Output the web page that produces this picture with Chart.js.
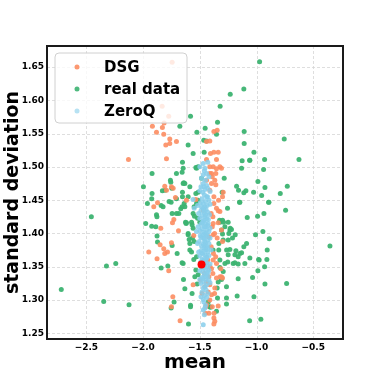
<!DOCTYPE html>
<html>
<head>
<meta charset="utf-8">
<script src="https://cdn.jsdelivr.net/npm/chart.js@4.4.1/dist/chart.umd.min.js"></script>
<style>
  html, body { margin: 0; padding: 0; background: #fff; }
  #wrap { width: 382px; height: 382px; }
</style>
</head>
<body>
<div id="wrap"><canvas id="myChart"></canvas></div>
<script>
const xTicks = [-2.5, -2.0, -1.5, -1.0, -0.5];
const yTicks = [1.25, 1.30, 1.35, 1.40, 1.45, 1.50, 1.55, 1.60, 1.65];
const seriesNames = ["DSG", "real data", "ZeroQ"];

// [mean, standard deviation]
const realPoints = [
  [-2.456,1.425],[-1.921,1.490],[-1.997,1.470],[-1.962,1.445],[-1.924,1.452],[-1.921,1.460],[-1.977,1.415],[-1.924,1.411],
  [-1.888,1.410],[-1.882,1.428],[-1.878,1.425],[-1.841,1.442],[-1.824,1.440],[-1.830,1.464],[-1.806,1.465],[-1.753,1.447],
  [-1.747,1.468],[-1.759,1.480],[-1.744,1.430],[-1.706,1.452],[-1.706,1.430],[-1.653,1.455],[-1.653,1.462],[-1.632,1.475],
  [-1.638,1.445],[-1.656,1.440],[-1.685,1.430],[-1.626,1.417],[-1.656,1.492],[-1.653,1.507],[-1.603,1.533],[-1.676,1.561],
  [-1.582,1.576],[-1.559,1.520],[-1.535,1.499],[-1.515,1.500],[-1.559,1.430],[-1.550,1.440],[-1.529,1.445],[-1.573,1.417],
  [-1.568,1.413],[-1.559,1.408],[-1.535,1.460],[-1.515,1.462],[-1.603,1.400],
  [-2.721,1.316],[-2.347,1.298],[-2.323,1.351],[-2.241,1.355],[-2.124,1.293],[-1.877,1.396],[-1.873,1.387],[-1.841,1.348],
  [-1.782,1.351],[-1.744,1.382],[-1.700,1.370],[-1.656,1.356],[-1.644,1.331],[-1.632,1.317],[-1.727,1.297],[-1.753,1.288],
  [-1.582,1.292],[-1.600,1.264],[-1.621,1.415],[-1.603,1.398],[-1.588,1.385],[-1.573,1.372],[-1.553,1.361],[-1.565,1.393],
  [-1.550,1.388],[-1.568,1.310],[-1.535,1.345],[-1.515,1.338],[-1.524,1.324],
  [-0.973,1.658],[-1.112,1.617],[-1.109,1.553],[-1.109,1.535],[-0.756,1.542],[-1.023,1.522],[-1.127,1.509],[-1.059,1.510],
  [-0.929,1.511],[-0.626,1.511],[-1.132,1.498],[-0.938,1.496],[-0.988,1.478],[-0.729,1.471],[-0.926,1.469],[-1.112,1.461],
  [-1.026,1.462],[-0.955,1.457],[-0.791,1.460],
  [-1.232,1.609],[-1.321,1.591],[-1.344,1.567],[-1.453,1.558],[-1.526,1.552],[-1.353,1.549],[-1.465,1.540],[-1.441,1.539],
  [-1.462,1.522],[-1.061,1.510],[-1.529,1.498],[-1.647,1.475],[-1.588,1.470],[-1.485,1.483],[-1.285,1.483],[-1.176,1.471],
  [-1.159,1.465],[-1.303,1.462],[-1.150,1.447],[-0.894,1.447],[-1.256,1.438],[-0.744,1.435],[-1.082,1.424],[-0.991,1.426],
  [-0.935,1.430],[-1.326,1.420],[-1.291,1.417],[-1.221,1.406],[-1.244,1.400],[-1.188,1.398],[-1.009,1.398],[-0.944,1.403],
  [-0.888,1.392],[-1.618,1.416],[-1.547,1.426],[-1.668,1.437],[-1.632,1.440],
  [-0.353,1.381],[-1.088,1.385],[-1.112,1.380],[-1.147,1.370],[-1.162,1.365],[-1.191,1.368],[-1.235,1.376],[-1.250,1.390],
  [-1.212,1.393],[-1.232,1.408],[-1.309,1.405],[-1.300,1.399],[-0.906,1.375],[-0.977,1.360],[-0.929,1.350],[-0.988,1.344],
  [-1.035,1.334],[-1.103,1.355],[-1.162,1.354],[-1.206,1.355],[-1.279,1.355],[-1.323,1.349],[-1.294,1.343],[-1.162,1.332],
  [-0.926,1.324],[-0.735,1.325],[-1.265,1.320],[-1.309,1.331],[-1.023,1.305],[-1.171,1.306],[-1.265,1.303],[-1.265,1.294],
  [-1.353,1.283],[-1.412,1.290],[-0.962,1.271],[-1.061,1.269],[-1.529,1.365],[-1.588,1.375],[-1.647,1.355],[-1.582,1.290],
  [-1.544,1.335],[-0.891,1.447],[-1.147,1.447],[-1.132,1.371],[-1.059,1.363],[-0.982,1.361],[-0.909,1.361],
  [-1.706,1.490],[-1.647,1.498],[-1.756,1.477],[-1.641,1.476],[-1.603,1.455],[-1.515,1.450],[-1.771,1.448],[-1.520,1.423],
  [-1.500,1.417],[-1.323,1.417],[-1.300,1.420],[-1.250,1.417],[-1.279,1.410],[-1.235,1.405],[-1.094,1.464],[-1.594,1.391],
  [-1.294,1.390],[-1.332,1.385],[-1.426,1.297],[-1.406,1.289],[-1.344,1.303],[-1.338,1.327],[-1.347,1.318],[-1.323,1.360],
  [-1.254,1.357],[-1.191,1.356],[-1.182,1.374],[-1.383,1.375],[-1.333,1.375],[-1.264,1.375],[-1.250,1.368]
];

const dsgPoints = [
  [-1.744,1.657],[-1.832,1.591],[-1.774,1.576],[-1.815,1.566],[-1.918,1.561],[-1.882,1.552],[-1.830,1.559],[-1.818,1.549],
  [-1.765,1.542],[-1.706,1.538],[-1.765,1.535],[-1.800,1.533],[-1.794,1.512],[-2.129,1.511],[-1.809,1.471],[-1.750,1.470],
  [-1.794,1.465],[-1.873,1.446],[-1.906,1.440],[-1.715,1.454],[-1.729,1.421],[-1.741,1.416],[-1.688,1.404],[-1.844,1.408],
  [-1.618,1.450],[-1.553,1.397],[-1.950,1.372],[-1.850,1.383],[-1.818,1.377],[-1.785,1.372],[-1.750,1.386],[-1.877,1.362],
  [-1.774,1.344],[-1.738,1.305],[-1.750,1.290],[-1.674,1.269],[-1.735,1.468],[-1.809,1.370],[-1.559,1.323],[-1.494,1.330],
  [-1.441,1.538],[-1.412,1.539],[-1.376,1.553],[-1.347,1.555],[-1.406,1.520],[-1.376,1.522],[-1.338,1.522],
  [-1.441,1.511],[-1.353,1.511],[-1.412,1.500],[-1.309,1.498],[-1.359,1.490],[-1.412,1.490],[-1.390,1.485],[-1.368,1.480],
  [-1.294,1.462],[-1.300,1.455],[-1.535,1.451],[-1.470,1.435],[-1.338,1.434],[-1.382,1.500],[-1.397,1.490],[-1.353,1.497],
  [-1.323,1.500],[-1.441,1.480],[-1.397,1.475],[-1.359,1.473],[-1.412,1.465],[-1.376,1.455],[-1.335,1.450],[-1.376,1.445],
  [-1.353,1.438],[-1.323,1.433],[-1.338,1.416],[-1.309,1.405],[-1.347,1.393],[-1.300,1.388],[-1.382,1.415],[-1.382,1.398],
  [-1.400,1.430],[-1.385,1.425],[-1.390,1.410],[-1.370,1.400],[-1.420,1.395],[-1.400,1.380],[-1.380,1.370],[-1.430,1.360],
  [-1.360,1.365],[-1.410,1.350],[-1.385,1.340],[-1.420,1.335],[-1.460,1.340],[-1.480,1.310],[-1.370,1.310],[-1.390,1.290],
  [-1.450,1.280],[-1.420,1.280],[-1.375,1.280],[-1.441,1.327],[-1.412,1.323],[-1.456,1.320],[-1.426,1.312],[-1.397,1.308],
  [-1.368,1.318],[-1.353,1.333],[-1.323,1.335],[-1.300,1.333],[-1.382,1.360],[-1.353,1.355],[-1.315,1.347],[-1.397,1.347],
  [-1.447,1.290],[-1.338,1.291],[-1.376,1.273],[-1.368,1.268],[-1.376,1.264],[-1.441,1.293],[-1.412,1.300],[-1.309,1.335]
];

const zeroqPoints = [
  [-1.470,1.505],[-1.430,1.507],[-1.500,1.500],[-1.455,1.498],[-1.440,1.490],[-1.470,1.488],[-1.485,1.483],[-1.450,1.480],
  [-1.420,1.485],[-1.460,1.494],[-1.470,1.475],[-1.440,1.472],[-1.490,1.470],[-1.455,1.466],[-1.430,1.468],[-1.475,1.462],
  [-1.410,1.463],[-1.500,1.464],[-1.560,1.451],[-1.460,1.458],[-1.440,1.455],[-1.480,1.452],[-1.450,1.448],[-1.420,1.450],
  [-1.470,1.445],[-1.495,1.446],[-1.435,1.442],[-1.455,1.440],[-1.410,1.444],[-1.520,1.442],[-1.470,1.438],[-1.445,1.436],
  [-1.490,1.434],[-1.460,1.431],[-1.430,1.432],[-1.415,1.428],[-1.480,1.427],[-1.455,1.425],[-1.500,1.423],[-1.440,1.422],
  [-1.465,1.420],[-1.425,1.421],[-1.510,1.430],[-1.550,1.438],[-1.470,1.418],[-1.450,1.415],[-1.490,1.414],[-1.430,1.412],
  [-1.460,1.410],[-1.480,1.407],[-1.440,1.405],[-1.500,1.404],[-1.420,1.403],[-1.465,1.402],[-1.455,1.400],[-1.515,1.410],
  [-1.410,1.408],[-1.530,1.403],[-1.475,1.398],[-1.445,1.396],[-1.490,1.394],[-1.460,1.392],[-1.430,1.390],[-1.505,1.388],
  [-1.450,1.386],[-1.470,1.384],[-1.420,1.385],[-1.485,1.381],[-1.440,1.380],[-1.455,1.382],[-1.520,1.385],[-1.410,1.393],
  [-1.465,1.378],[-1.445,1.375],[-1.490,1.374],[-1.430,1.372],[-1.475,1.370],[-1.455,1.368],[-1.500,1.366],[-1.440,1.365],
  [-1.420,1.367],[-1.465,1.362],[-1.480,1.360],[-1.450,1.361],[-1.510,1.372],[-1.400,1.375],[-1.470,1.358],[-1.440,1.356],
  [-1.460,1.352],[-1.430,1.350],[-1.485,1.348],[-1.450,1.346],[-1.420,1.345],[-1.470,1.342],[-1.440,1.340],[-1.500,1.344],
  [-1.410,1.354],[-1.455,1.355],[-1.460,1.338],[-1.430,1.336],[-1.480,1.334],[-1.445,1.331],[-1.420,1.330],[-1.465,1.327],
  [-1.490,1.325],[-1.440,1.323],[-1.410,1.326],[-1.455,1.320],[-1.500,1.331],[-1.470,1.318],[-1.445,1.315],[-1.480,1.312],
  [-1.430,1.310],[-1.460,1.307],[-1.440,1.304],[-1.470,1.301],[-1.490,1.305],[-1.465,1.297],[-1.450,1.292],[-1.470,1.285],
  [-1.460,1.278],[-1.470,1.263],[-1.455,1.288],[-1.462,1.435],[-1.448,1.428],[-1.478,1.416],[-1.436,1.398],[-1.468,1.393],
  [-1.452,1.376],[-1.482,1.371],[-1.438,1.363],[-1.462,1.349],[-1.448,1.335],[-1.474,1.332],[-1.426,1.342],[-1.492,1.357],
  [-1.428,1.378],[-1.496,1.397],[-1.426,1.415],[-1.486,1.440],[-1.432,1.455],[-1.466,1.470],[-1.449,1.410],[-1.458,1.388]
];

const redPoint = [[-1.485, 1.3535]];

const toXY = pts => pts.map(p => ({ x: p[0], y: p[1] }));
const fmtMinus = (v, d) => (v < 0 ? "\u2212" : "") + Math.abs(v).toFixed(d);

const legendColors = ["#fc8d62", "#3cb371", "#87ceeb"];

// dashed grid, drawn under the points
const gridPlugin = {
  id: "dashGrid",
  beforeDatasetsDraw(chart) {
    const c = chart.ctx;
    const a = chart.chartArea;
    const xs = chart.scales.x, ys = chart.scales.y;
    c.save();
    c.strokeStyle = "#d6d6d6";
    c.lineWidth = 0.8;
    c.setLineDash([3, 2]);
    xTicks.forEach(v => {
      const px = Math.round(xs.getPixelForValue(v)) + 0.5;
      c.beginPath(); c.moveTo(px, a.top); c.lineTo(px, a.bottom); c.stroke();
    });
    yTicks.forEach(v => {
      const py = Math.round(ys.getPixelForValue(v)) + 0.5;
      c.beginPath(); c.moveTo(a.left, py); c.lineTo(a.right, py); c.stroke();
    });
    c.restore();
  }
};

const boxPlugin = {
  id: "boxAndLegend",
  afterDraw(chart) {
    const c = chart.ctx;
    const a = chart.chartArea;
    c.save();
    // legend box
    const lx = 55, ly = 53, lw = 132, lh = 70, r = 4;
    c.beginPath();
    c.moveTo(lx + r, ly);
    c.arcTo(lx + lw, ly, lx + lw, ly + lh, r);
    c.arcTo(lx + lw, ly + lh, lx, ly + lh, r);
    c.arcTo(lx, ly + lh, lx, ly, r);
    c.arcTo(lx, ly, lx + lw, ly, r);
    c.closePath();
    c.fillStyle = "rgba(255,255,255,0.8)";
    c.fill();
    c.strokeStyle = "#d0d0d0";
    c.lineWidth = 1;
    c.stroke();
    c.font = "bold 15px 'DejaVu Sans'";
    c.textBaseline = "middle";
    seriesNames.forEach((name, i) => {
      const y = 67 + i * 22;
      c.beginPath();
      c.arc(77, y, 2.5, 0, Math.PI * 2);
      c.fillStyle = legendColors[i];
      c.globalAlpha = i === 2 ? 0.6 : 0.9;
      c.fill();
      c.globalAlpha = 1;
      c.fillStyle = "#000";
      c.fillText(name, 104, y + 1);
    });
    // frame
    c.strokeStyle = "#1a1a1a";
    c.lineWidth = 2;
    c.strokeRect(a.left, a.top, a.right - a.left, a.bottom - a.top);
    c.restore();
  }
};

const ctx = document.getElementById("myChart");
new Chart(ctx, {
  type: "scatter",
  data: {
    datasets: [
      {
        label: "red",
        data: toXY(redPoint),
        backgroundColor: "#ff0000",
        pointRadius: 4,
        borderWidth: 0,
        order: 0,
      },
      {
        label: seriesNames[2],
        data: toXY(zeroqPoints),
        backgroundColor: "rgba(135,206,235,0.85)",
        pointRadius: 2.5,
        borderWidth: 0,
        order: 1,
      },
      {
        label: seriesNames[0],
        data: toXY(dsgPoints),
        backgroundColor: "rgba(252,141,98,0.9)",
        pointRadius: 2.5,
        borderWidth: 0,
        order: 2,
      },
      {
        label: seriesNames[1],
        data: toXY(realPoints),
        backgroundColor: "rgba(60,179,113,0.95)",
        pointRadius: 2.5,
        borderWidth: 0,
        order: 3,
      },
    ],
  },
  options: {
    responsive: true,
    maintainAspectRatio: false,
    animation: false,
    layout: { padding: { top: 46, right: 39, left: 0, bottom: 0 } },
    plugins: { legend: { display: false }, tooltip: { enabled: false } },
    scales: {
      x: {
        type: "linear",
        min: -2.847,
        max: -0.238,
        afterBuildTicks: s => { s.ticks = xTicks.map(v => ({ value: v })); },
        afterFit: s => { s.height = 43; },
        ticks: {
          callback: v => fmtMinus(v, 1),
          font: { family: "DejaVu Sans", size: 9, weight: "bold" },
          color: "#000",
          padding: 3,
          maxRotation: 0,
        },
        grid: { display: false, drawTicks: false },
        border: { display: false },
        title: {
          display: true,
          text: "mean",
          font: { family: "DejaVu Sans", size: 20, weight: "bold" },
          color: "#000",
          padding: { top: 0, bottom: 7 },
        },
      },
      y: {
        type: "linear",
        min: 1.2415,
        max: 1.6815,
        afterBuildTicks: s => { s.ticks = yTicks.map(v => ({ value: v })); },
        afterFit: s => { s.width = 47; },
        ticks: {
          callback: v => v.toFixed(2),
          font: { family: "DejaVu Sans", size: 9, weight: "bold" },
          color: "#000",
          padding: 3,
        },
        grid: { display: false, drawTicks: false },
        border: { display: false },
        title: {
          display: true,
          text: "standard deviation",
          font: { family: "DejaVu Sans", size: 19, weight: "bold" },
          color: "#000",
          padding: { top: 2, bottom: 0 },
        },
      },
    },
  },
  plugins: [gridPlugin, boxPlugin],
});
</script>
</body>
</html>
